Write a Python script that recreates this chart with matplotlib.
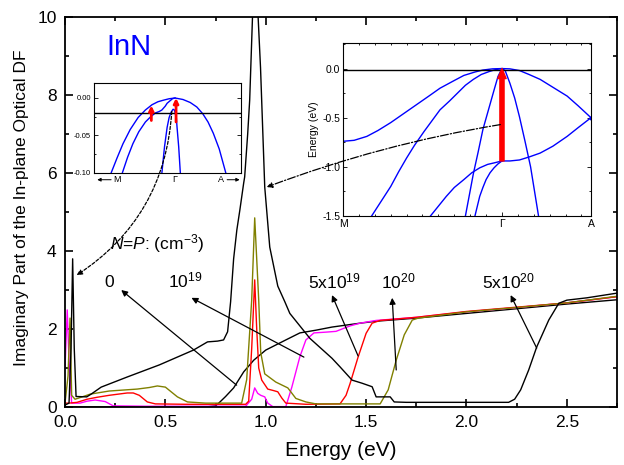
# -*- coding: utf-8 -*-
# %% Imports
import numpy as np
import matplotlib.pyplot as plt
from matplotlib.ticker import MultipleLocator, FixedLocator

plt.rcParams['font.family'] = ['Liberation Sans', 'DejaVu Sans']
plt.rcParams['mathtext.fontset'] = 'custom'
plt.rcParams['mathtext.rm'] = 'Liberation Sans'
plt.rcParams['mathtext.it'] = 'Liberation Sans:italic'
plt.rcParams['mathtext.default'] = 'regular'

# %% Data

# N = 0 (black)
e_n0 = [0.0, 0.70, 0.75, 0.77, 0.80, 0.84, 0.89, 0.94, 1.0, 1.1, 1.17, 1.25, 1.33, 1.47, 1.55, 1.75, 2.0, 2.25, 2.5, 2.75]
v_n0 = [0.0, 0.0, 0.03, 0.12, 0.27, 0.49, 0.9, 1.2, 1.46, 1.72, 1.9, 1.97, 2.05, 2.15, 2.2, 2.28, 2.4, 2.52, 2.64, 2.75]

# N = 1e19 (magenta)
e_1e19 = [0.0, 0.011, 0.02, 0.033, 0.075, 0.11, 0.15, 0.2, 0.24, 0.4, 0.9, 0.93, 0.945, 0.96, 0.975, 0.995, 1.01,
          1.035, 1.1, 1.13, 1.15, 1.17, 1.2, 1.24, 1.3, 1.35, 1.42, 1.47, 1.55, 1.75, 2.0, 2.25, 2.5, 2.75]
v_1e19 = [1.0, 2.49, 1.2, 0.1, 0.1, 0.15, 0.18, 0.14, 0.03, 0.02, 0.02, 0.2, 0.49, 0.35, 0.3, 0.26, 0.1,
          0.01, 0.01, 0.51, 0.9, 1.29, 1.72, 1.9, 1.92, 1.94, 2.08, 2.15, 2.22, 2.3, 2.44, 2.55, 2.67, 2.83]

# N = 5e19 (red)
e_5e19 = [0.0, 0.02, 0.06, 0.11, 0.16, 0.22, 0.28, 0.31, 0.34, 0.37, 0.41, 0.45, 0.6, 0.9, 0.915, 0.93, 0.945,
          0.955, 0.965, 0.98, 1.01, 1.04, 1.06, 1.08, 1.10, 1.2, 1.37, 1.40, 1.42, 1.46, 1.50, 1.53, 1.57,
          1.75, 2.0, 2.25, 2.5, 2.75]
v_5e19 = [0.1, 0.1, 0.12, 0.2, 0.25, 0.3, 0.34, 0.36, 0.36, 0.3, 0.13, 0.08, 0.07, 0.07, 0.15, 1.5, 3.26,
          2.0, 1.0, 0.69, 0.46, 0.42, 0.39, 0.23, 0.1, 0.07, 0.08, 0.3, 0.6, 1.28, 1.89, 2.15, 2.22,
          2.3, 2.45, 2.56, 2.67, 2.83]

# N = 1e20 (olive)
e_1e20 = [0.0, 0.015, 0.025, 0.033, 0.05, 0.08, 0.125, 0.22, 0.36, 0.42, 0.46, 0.5, 0.56, 0.61, 0.7, 0.88,
          0.905, 0.93, 0.945, 0.965, 0.975, 0.995, 1.05, 1.11, 1.15, 1.2, 1.25, 1.57, 1.61, 1.65, 1.69,
          1.73, 1.76, 2.0, 2.25, 2.5, 2.75]
v_1e20 = [0.1, 0.8, 2.28, 0.3, 0.2, 0.25, 0.33, 0.41, 0.46, 0.5, 0.54, 0.51, 0.26, 0.13, 0.1, 0.1,
          0.7, 2.74, 4.85, 2.74, 1.4, 0.85, 0.64, 0.49, 0.22, 0.13, 0.08, 0.08, 0.44, 1.2, 1.85,
          2.23, 2.28, 2.44, 2.55, 2.67, 2.84]

# N = 5e20 (black)
e_5e20 = [0.0, 0.02, 0.03, 0.038, 0.046, 0.055, 0.108, 0.13, 0.18, 0.31, 0.47, 0.64, 0.71, 0.76, 0.79,
          0.81, 0.825, 0.84, 0.856, 0.871, 0.89, 0.895, 0.91, 0.92, 0.934, 0.948, 0.962, 0.974, 0.995,
          1.02, 1.06, 1.095, 1.12, 1.22, 1.33, 1.37, 1.43, 1.48, 1.53, 1.55, 1.62, 1.64, 1.7, 2.21,
          2.24, 2.27, 2.31, 2.35, 2.41, 2.46, 2.5, 2.6, 2.75]
v_5e20 = [0.05, 0.1, 1.5, 3.8, 1.5, 0.27, 0.26, 0.33, 0.51, 0.77, 1.08, 1.46, 1.67, 1.69, 1.72,
          1.93, 2.7, 3.8, 4.54, 5.05, 5.74, 5.9, 7.0, 7.87, 10.0, 13.5, 10.0, 8.7, 5.64,
          4.1, 3.1, 2.7, 2.4, 1.76, 1.25, 1.03, 0.69, 0.61, 0.52, 0.26, 0.26, 0.13, 0.12, 0.12,
          0.2, 0.44, 0.95, 1.54, 2.23, 2.66, 2.74, 2.8, 2.92]

series = [(e_n0, v_n0, 'black'), (e_1e19, v_1e19, '#ff00ff'), (e_5e19, v_5e19, '#ff0000'),
          (e_1e20, v_1e20, '#808000'), (e_5e20, v_5e20, 'black')]

# labels: text, text position (baseline), arrow tail on curve, arrow head
lab_text = ['0', '10$^{19}$', '5x10$^{19}$', '10$^{20}$', '5x10$^{20}$']
lab_pos = [(0.22, 3.07), (0.60, 3.07), (1.34, 3.05), (1.66, 3.05), (2.21, 3.05)]
lab_tip = [(0.855, 0.56), (1.19, 1.28), (1.46, 1.31), (1.65, 0.95), (2.35, 1.51)]
lab_head = [(0.28, 3.0), (0.63, 2.8), (1.33, 2.87), (1.63, 2.8), (2.22, 2.87)]

# left inset (zoom near the valence band top)
kL_outer = [-0.97, -0.88, -0.79, -0.68, -0.56, -0.45, -0.35, -0.26, -0.18, -0.09, 0.0,
            0.12, 0.23, 0.33, 0.42, 0.50, 0.58, 0.67, 0.77]
eL_outer = [-0.100, -0.080, -0.061, -0.042, -0.026, -0.016, -0.009, -0.005, -0.003, -0.001, 0.0,
            -0.002, -0.006, -0.012, -0.021, -0.032, -0.047, -0.068, -0.100]
kL_inner = [-0.80, -0.72, -0.64, -0.55, -0.45, -0.37, -0.30, -0.24, -0.20, -0.15, -0.12, -0.08, -0.04, 0.0]
eL_inner = [-0.100, -0.079, -0.061, -0.045, -0.032, -0.025, -0.020, -0.018, -0.016, -0.011, -0.007,
            -0.004, -0.001, 0.0]
kL_narrow = [-0.20, -0.16, -0.12, -0.09, -0.06, -0.03, -0.01, 0.0, 0.02, 0.03, 0.055, 0.08]
eL_narrow = [-0.100, -0.065, -0.039, -0.026, -0.019, -0.015, -0.016, -0.019, -0.027, -0.039, -0.065, -0.100]

# right inset (valence bands M-Gamma-A)
kR_b1 = [-1.0, -0.93, -0.85, -0.78, -0.70, -0.62, -0.54, -0.46, -0.39, -0.31, -0.24, -0.17, -0.12, -0.06,
         0.0, 0.05, 0.11, 0.17, 0.24, 0.32, 0.41, 0.48, 0.56]
eR_b1 = [-0.74, -0.73, -0.69, -0.63, -0.55, -0.46, -0.37, -0.28, -0.20, -0.13, -0.07, -0.035, -0.015, -0.003,
         0.0, -0.003, -0.02, -0.06, -0.11, -0.19, -0.28, -0.38, -0.50]
kR_b2 = [-0.82, -0.76, -0.70, -0.65, -0.60, -0.55, -0.49, -0.44, -0.39, -0.33, -0.28, -0.23, -0.18, -0.13,
         -0.08, -0.04, 0.0]
eR_b2 = [-1.50, -1.35, -1.20, -1.05, -0.91, -0.78, -0.64, -0.53, -0.42, -0.33, -0.25, -0.17, -0.11, -0.06,
         -0.03, -0.01, 0.0]
kR_b3 = [-0.23, -0.18, -0.15, -0.12, -0.085, -0.05, -0.025, 0.0, 0.02, 0.05, 0.08, 0.11, 0.145, 0.18, 0.23]
eR_b3 = [-1.50, -1.07, -0.85, -0.62, -0.42, -0.22, -0.08, 0.0, -0.02, -0.15, -0.30, -0.49, -0.74, -1.0, -1.50]
kR_b4 = [-0.45, -0.40, -0.35, -0.30, -0.24, -0.19, -0.14, -0.09, -0.05, 0.0]
eR_b4 = [-1.50, -1.40, -1.30, -1.21, -1.13, -1.06, -1.01, -0.975, -0.96, -0.94]
kR_b5 = [-0.17, -0.155, -0.14, -0.12, -0.10, -0.075, -0.05, -0.025, 0.0]
eR_b5 = [-1.50, -1.40, -1.30, -1.21, -1.13, -1.06, -1.01, -0.97, -0.94]
kR_b6 = [0.0, 0.05, 0.11, 0.17, 0.24, 0.32, 0.41, 0.48, 0.56]
eR_b6 = [-0.94, -0.94, -0.93, -0.90, -0.86, -0.79, -0.69, -0.60, -0.50]

# %% Main plot
fig = plt.figure(figsize=(6.24, 4.65), dpi=100)
ax = fig.add_axes([0.1042, 0.1247, 0.8846, 0.8387])

for e, v, c in series:
    ax.plot(e, v, color=c, lw=1.0)

ax.set_xlim(0, 2.75)
ax.set_ylim(0, 10)
ax.xaxis.set_major_locator(MultipleLocator(0.5))
ax.xaxis.set_minor_locator(MultipleLocator(0.25))
ax.yaxis.set_major_locator(MultipleLocator(2))
ax.yaxis.set_minor_locator(MultipleLocator(1))
ax.xaxis.set_major_formatter(plt.FormatStrFormatter('%.1f'))
ax.tick_params(which='both', direction='in', top=True, right=True, width=1.2, labelsize=12.5)
ax.tick_params(which='major', length=6, pad=6)
ax.tick_params(which='minor', length=3)
for sp in ax.spines.values():
    sp.set_linewidth(1.3)

ax.set_xlabel('Energy (eV)', fontsize=15)
ax.xaxis.set_label_coords(0.5, -0.088)
ax.set_ylabel('Imaginary Part of the In-plane Optical DF', fontsize=12.5)
ax.yaxis.set_label_coords(-0.066, 0.51)

ax.text(0.32, 9.23, 'InN', color='blue', fontsize=21, ha='center', va='center')
ax.text(0.46, 4.2, '$\\it{N}$=$\\it{P}$: (cm$^{-3}$)', fontsize=12.5, ha='center', va='center')

for t, p, tip, head in zip(lab_text, lab_pos, lab_tip, lab_head):
    ax.text(p[0], p[1], t, fontsize=12.5, ha='center', va='baseline')
    ax.annotate('', xy=head, xytext=tip,
                arrowprops=dict(arrowstyle='-|>', color='black', lw=0.9,
                                mutation_scale=9, shrinkA=0, shrinkB=0))

# %% Left inset
axL = fig.add_axes([0.1506, 0.628, 0.2356, 0.1935])
axL.plot(kL_outer, eL_outer, color='blue', lw=1.0)
axL.plot(kL_inner, eL_inner, color='blue', lw=1.0)
axL.plot(kL_narrow, eL_narrow, color='blue', lw=1.0)
axL.axhline(-0.020, color='black', lw=1.0)
axL.annotate('', xy=(-0.36, -0.010), xytext=(-0.36, -0.030),
             arrowprops=dict(arrowstyle='-|>', color='red', lw=2, mutation_scale=7, shrinkA=0, shrinkB=0))
axL.annotate('', xy=(0.015, 0.0), xytext=(0.015, -0.032),
             arrowprops=dict(arrowstyle='-|>', color='red', lw=2, mutation_scale=7, shrinkA=0, shrinkB=0))
axL.set_xlim(-1.23, 1.0)
axL.set_ylim(-0.10, 0.02)
axL.yaxis.set_major_locator(FixedLocator([0.0, -0.05, -0.10]))
axL.yaxis.set_minor_locator(MultipleLocator(0.025))
axL.yaxis.set_major_formatter(plt.FormatStrFormatter('%.2f'))
axL.set_xticks([-0.88, 0.0, 0.70])
axL.set_xticklabels(['M', '\u0393', 'A'])
axL.tick_params(which='both', direction='in', right=True, labelsize=5.5, width=0.6, pad=2)
axL.tick_params(axis='x', length=0, labelsize=6.5, pad=1.5)
axL.tick_params(which='major', axis='y', length=3)
axL.tick_params(which='minor', axis='y', length=1.5)
for sp in axL.spines.values():
    sp.set_linewidth(0.8)
axL.annotate('', xy=(-1.18, -0.109), xytext=(-0.97, -0.109), xycoords='data', annotation_clip=False,
             arrowprops=dict(arrowstyle='-|>', color='black', lw=0.7, mutation_scale=5, shrinkA=0, shrinkB=0))
axL.annotate('', xy=(0.98, -0.109), xytext=(0.79, -0.109), xycoords='data', annotation_clip=False,
             arrowprops=dict(arrowstyle='-|>', color='black', lw=0.7, mutation_scale=5, shrinkA=0, shrinkB=0))
# dashed connector to the low-energy peak
axL.annotate('', xy=(0.058, 3.38), xycoords=ax.transData, xytext=(-0.05, -0.018), textcoords='data',
             annotation_clip=False,
             arrowprops=dict(arrowstyle='-|>', color='black', lw=0.9, linestyle=(0, (2.5, 1.5)),
                             mutation_scale=8, shrinkA=0, shrinkB=0, connectionstyle='arc3,rad=-0.25'))

# %% Right inset
axR = fig.add_axes([0.5497, 0.5355, 0.3974, 0.372])
for k, en in [(kR_b1, eR_b1), (kR_b2, eR_b2), (kR_b3, eR_b3), (kR_b4, eR_b4), (kR_b5, eR_b5), (kR_b6, eR_b6)]:
    axR.plot(k, en, color='blue', lw=1.0)
axR.plot([0.56], [-0.5], 'o', color='blue', ms=2)
axR.axhline(-0.01, color='black', lw=1.0)
axR.annotate('', xy=(0.0, 0.0), xytext=(0.0, -0.94),
             arrowprops=dict(arrowstyle='simple,head_width=1.0,head_length=1.2,tail_width=0.5',
                             color='red', mutation_scale=6, shrinkA=0, shrinkB=0))
axR.set_xlim(-1.0, 0.56)
axR.set_ylim(-1.5, 0.26)
axR.yaxis.set_major_locator(MultipleLocator(0.5))
axR.yaxis.set_minor_locator(MultipleLocator(0.25))
axR.yaxis.set_major_formatter(plt.FormatStrFormatter('%.1f'))
axR.set_xticks([-1.0, 0.0, 0.56])
axR.set_xticklabels(['M', '\u0393', 'A'])
axR.xaxis.set_minor_locator(MultipleLocator(0.1))
axR.tick_params(which='both', direction='in', top=True, right=True, labelsize=7.5, width=0.6, pad=2)
axR.tick_params(which='major', length=3)
axR.tick_params(which='minor', length=1.5)
for sp in axR.spines.values():
    sp.set_linewidth(0.8)
axR.set_ylabel('Energy (eV)', fontsize=7.5, labelpad=2)
# dash-dot connector to the main peak
axR.annotate('', xy=(1.005, 5.64), xycoords=ax.transData, xytext=(-0.01, -0.57), textcoords='data',
             annotation_clip=False,
             arrowprops=dict(arrowstyle='-|>', color='black', lw=0.9, linestyle='-.',
                             mutation_scale=8, shrinkA=0, shrinkB=0, connectionstyle='arc3,rad=0.05'))

# %% Save
plt.savefig('out.png', dpi=100)
